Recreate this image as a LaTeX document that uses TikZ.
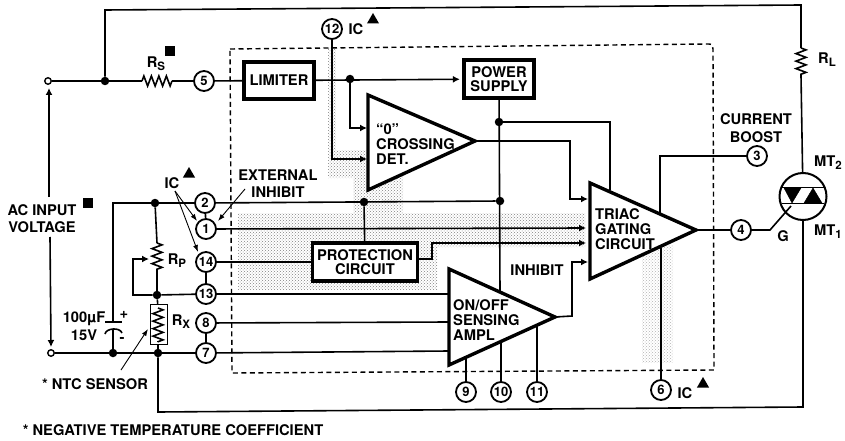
\documentclass[tikz,border=0pt]{standalone}
\usepackage{fontspec}
\setmainfont{TeX Gyre Heros}
\usetikzlibrary{arrows.meta, backgrounds, patterns, shapes.geometric, decorations.pathmorphing}
\newcommand{\subtxt}[1]{\raisebox{-3pt}{\fontsize{11.5}{11.5}\selectfont #1}}
\tikzset{
  wire/.style={line width=1.6pt},
  sig/.style={wire, -{Latex[length=7pt,width=7pt]}},
  thinarrow/.style={line width=0.9pt, -{Latex[length=7pt,width=5pt]}},
  resist/.style={wire, decorate, decoration={zigzag, amplitude=5pt, segment length=7.5pt}},
  block/.style={draw, line width=3.2pt, fill=white, inner sep=0pt, align=center, font=\bfseries\fontsize{14.7}{14.5}\selectfont},
  amp/.style={draw, line width=3.4pt, fill=white, line join=miter},
  txt/.style={inner sep=0pt, align=center, font=\bfseries\fontsize{14.7}{17.5}\selectfont},
  amptxt/.style={inner sep=0pt, anchor=west, align=left, font=\bfseries\fontsize{14.7}{15}\selectfont},
  pinnode/.style={circle, draw, line width=1.8pt, fill=white, inner sep=0pt, minimum size=20pt, font=\bfseries\fontsize{13}{13}\selectfont},
  junc/.style={circle, fill=black, inner sep=0pt, minimum size=8.5pt},
  term/.style={circle, draw, line width=1.4pt, fill=white, inner sep=0pt, minimum size=6.5pt},
  icmark/.style={regular polygon, regular polygon sides=3, fill=black, inner sep=0pt, minimum size=14pt},
  sqmark/.style={rectangle, fill=black, inner sep=0pt, minimum size=10pt},
  stipple/.style={pattern=crosshatch dots, pattern color=black!50},
}
\begin{document}
\begin{tikzpicture}[x=1pt, y=-1pt]
  \useasboundingbox (0,0) rectangle (845,441);

  % Free ends of the wires
  \foreach \n/\x/\y in {topL/105/10, topR/801/5, rlT/801/48, rlB/801/76,
    rsL/142/81, rsR/172/81, zeroA/367/128, zeroB/367/159, zeroTip/475/141, zeroBend/570/141,
    triacIn/588/199, triacTop/610/190, boostEnd/660/213, pin6End/661/248, triacTip/696/230,
    gateBend/770/230, gateEnd/791/206, gridL/113/203, capT/113/322, capB/113/329,
    rpT/157/243, rpB/157/272, rpWiper/149/259, rpLoop/133/295, rxT/158/308, rxB/158/342,
    inA/586/228, inB/586/243, protBendA/432/259, in13/449/294, in8/449/322, in7/449/351,
    psEnd/500/293, ampTip/555/317, inhEnd/588/262, ampBendA/572/316,
    edge9/466/357, edge10/501/341, edge11/537/326, botL/158/412, botR/803/407,
    acUpS/49/197, acUpE/49/88, acDnS/50/237, acDnE/51/347,
    extS/245/189, extE/218/221, icS/175/191, icEA/197/221, icEB/198/252, ntcS/121/370, ntcE/148/329} {
    \coordinate (\n) at (\x,\y);
  }

  % Triangular amplifiers
  \draw[amp] (368,95) -- (368,190) -- (zeroTip) -- cycle;
  \draw[amp] (590,183) -- (590,279) -- (triacTip) -- cycle;
  \draw[amp] (449,269) -- (449,365) -- (ampTip) -- cycle;
  \node[amptxt] (zerotxt) at (376,144) {``0''\\CROSSING\\DET.};
  \node[amptxt] (triactxt) at (595,229) {TRIAC\\GATING\\CIRCUIT};
  \node[amptxt] (amptxt) at (453,320.5) {ON/OFF\\SENSING\\AMPL};

  % Blocks
  \node[block, minimum width=70pt, minimum height=37pt] (limiter) at (279,80.5) {LIMITER};
  \node[block, minimum width=70pt, minimum height=38pt] (supply) at (499,79) {POWER\\SUPPLY};
  \node[block, minimum width=105pt, minimum height=38pt] (protect) at (365,262) {PROTECTION\\CIRCUIT};

  % Numbered pins
  \foreach \n/\x/\y in {12/332/29, 5/204/81, 2/205/203, 1/206/229, 14/206/262, 13/206/294,
    8/206/323, 7/206/353, 3/757/156, 4/741/230, 9/466/392, 10/501/392, 11/537/392, 6/661/390} {
    \node[pinnode] (pin\n) at (\x,\y) {\n};
  }

  % Junctions and terminals
  \foreach \n/\x/\y in {jsrc/105/81, jlim/350/79, jgrid/155/203, jprot/364/202, jps/499/122, jsup/500/201,
    jmid/157/295, jcap/113/353, jrx/158/353} {
    \node[junc] (\n) at (\x,\y) {};
  }
  \node[term] (termA) at (48,81) {};
  \node[term] (termB) at (51,353) {};

  % Thermistor and triac
  \node[draw, line width=0.9pt, fill=white, minimum width=17pt, minimum height=40pt, inner sep=0pt] (rxbox) at (158.5,324) {};
  \draw[resist] (rxT) -- (rxB);
  \node[circle, draw, line width=2pt, minimum size=47pt, inner sep=0pt] (triac) at (803,196.5) {};
  \draw[fill=black] (784,188) -- (801,188) -- (792,203) -- cycle;
  \draw[fill=black] (804,203) -- (822,203) -- (813,188) -- cycle;
  \draw[wire] (782,187.5) -- (824,187.5);
  \draw[wire] (782,203.5) -- (824,203.5);

  % Capacitor
  \draw[wire] (105,322) -- (122,322);
  \draw[wire] (105,334) .. controls (106,328) and (120,327) .. (122,333);

  % Labels
  \node[txt] (lblic) at (356,29) {IC};
  \node[icmark] (markA) at (373,20) {};
  \node[txt] (lblrs) at (156,64) {R\subtxt{S}};
  \node[sqmark] (markB) at (170,51) {};
  \node[txt] (lblext) at (278,183.5) {EXTERNAL\\INHIBIT};
  \node[txt] (lblicb) at (172,183) {IC};
  \node[icmark] (markC) at (189,174) {};
  \node[txt] (lblac) at (42,218.5) {AC INPUT\\VOLTAGE};
  \node[sqmark] (markD) at (88,203) {};
  \node[txt] (lblrp) at (177,261) {R\subtxt{P}};
  \node[txt] (lblrx) at (181,322) {R\subtxt{X}};
  \node[txt] (lblcap) at (84,326) {100µF\\15V};
  \node[txt] (lblplus) at (124,315) {+};
  \node[txt] (lblminus) at (122,340) {-};
  \node[txt] (lblntc) at (95,384) {* NTC SENSOR};
  \node[txt] (lblneg) at (173,430) {* NEGATIVE TEMPERATURE COEFFICIENT};
  \node[txt] (lblinh) at (537,270) {INHIBIT};
  \node[txt] (lblboost) at (756,128) {CURRENT\\BOOST};
  \node[txt] (lblrl) at (827,60) {R\subtxt{L}};
  \node[txt] (lblmt2) at (828,163) {MT\subtxt{2}};
  \node[txt] (lblmt1) at (828,232) {MT\subtxt{1}};
  \node[txt] (lblg) at (783,236) {G};
  \node[txt] (lblicc) at (685,393) {IC};
  \node[icmark] (markE) at (703,384) {};

  \begin{scope}[on background layer]
    % Shaded areas
    \fill[stipple] (328,48) -- (336,48) -- (336,150) -- (403,150) -- (403,213) -- (585,213) -- (585,247)
      -- (437,247) -- (437,290) -- (238,290) -- (238,213) -- (353,213) -- (353,178) -- (328,178) -- cycle;
    \fill[pattern=crosshatch dots, pattern color=black!30] (642,245) rectangle (673,362);
    % IC outline
    \draw[line width=1.4pt, dash pattern=on 5pt off 3.5pt] (230,49) -- (707,44) .. controls (712,44) .. (713,49)
      -- (714,370) -- (232,373) -- cycle;

    % Mains side
    \draw[wire] (termA) -- (jsrc) -- (rsL);
    \draw[resist] (rsL) -- (rsR);
    \draw[wire] (rsR) -- (pin5);
    \draw[wire] (pin5) -- (limiter);
    \draw[wire] (jsrc) -- (topL) -- (topR) -- (rlT);
    \draw[resist] (rlT) -- (rlB);
    \draw[wire] (rlB) -- (triac);
    \draw[wire] (triac.south) -- (botR) -- (botL) -- (jrx);

    % Upper signals
    \draw[sig, shorten >=2.5pt] (limiter) -- (supply);
    \draw[sig] (jlim) |- (zeroA);
    \draw[sig] (pin12) |- (zeroB);
    \draw[wire] (supply) -- (psEnd);
    \draw[wire] (jps) -| (triacTop);
    \draw[sig] (zeroTip) -- (zeroBend) |- (triacIn);
    \draw[wire] (boostEnd) |- (pin3);

    % Left hand inputs
    \draw[wire] (capT) -- (gridL) -- (pin2);
    \draw[wire] (pin2) -- (jsup);
    \draw[wire] (capB) -- (jcap);
    \draw[wire] (termB) -- (pin7);
    \draw[wire] (jgrid) -- (rpT);
    \draw[resist] (rpT) -- (rpB);
    \draw[wire] (rpB) -- (jmid);
    \draw[sig] (pin13) -- (jmid) -- (rpLoop) |- (rpWiper);
    \draw[wire] (jmid) -- (rxT);
    \draw[wire] (rxB) -- (jrx);
    \draw[wire] (pin2) -- (pin1);
    \draw[wire] (pin14) -- (pin13);
    \draw[wire] (pin8) -- (pin7);
    \draw[sig] (pin1) -- (inA);
    \draw[wire] (pin14) -- (protect);
    \draw[wire] (jprot) -- (protect);
    \draw[sig] (protect.east |- protBendA) -- (protBendA) |- (inB);
    \draw[wire] (pin13) -- (in13);
    \draw[wire] (pin8) -- (in8);
    \draw[wire] (pin7) -- (in7);

    % Outputs and lower pins
    \draw[sig] (ampTip) -- (ampBendA) |- (inhEnd);
    \draw[wire] (triacTip) -- (pin4);
    \draw[wire] (pin4) -- (gateBend) -- (gateEnd);
    \draw[wire] (pin6) -- (pin6End);
    \draw[wire] (pin9) -- (edge9);
    \draw[wire] (pin10) -- (edge10);
    \draw[wire] (pin11) -- (edge11);
  \end{scope}

  % Pointers
  \draw[sig] (acUpS) -- (acUpE);
  \draw[sig] (acDnS) -- (acDnE);
  \draw[thinarrow] (extS) -- (extE);
  \draw[thinarrow] (icS) -- (icEA);
  \draw[thinarrow] (icS) -- (icEB);
  \draw[thinarrow] (ntcS) -- (ntcE);
\end{tikzpicture}
\end{document}
